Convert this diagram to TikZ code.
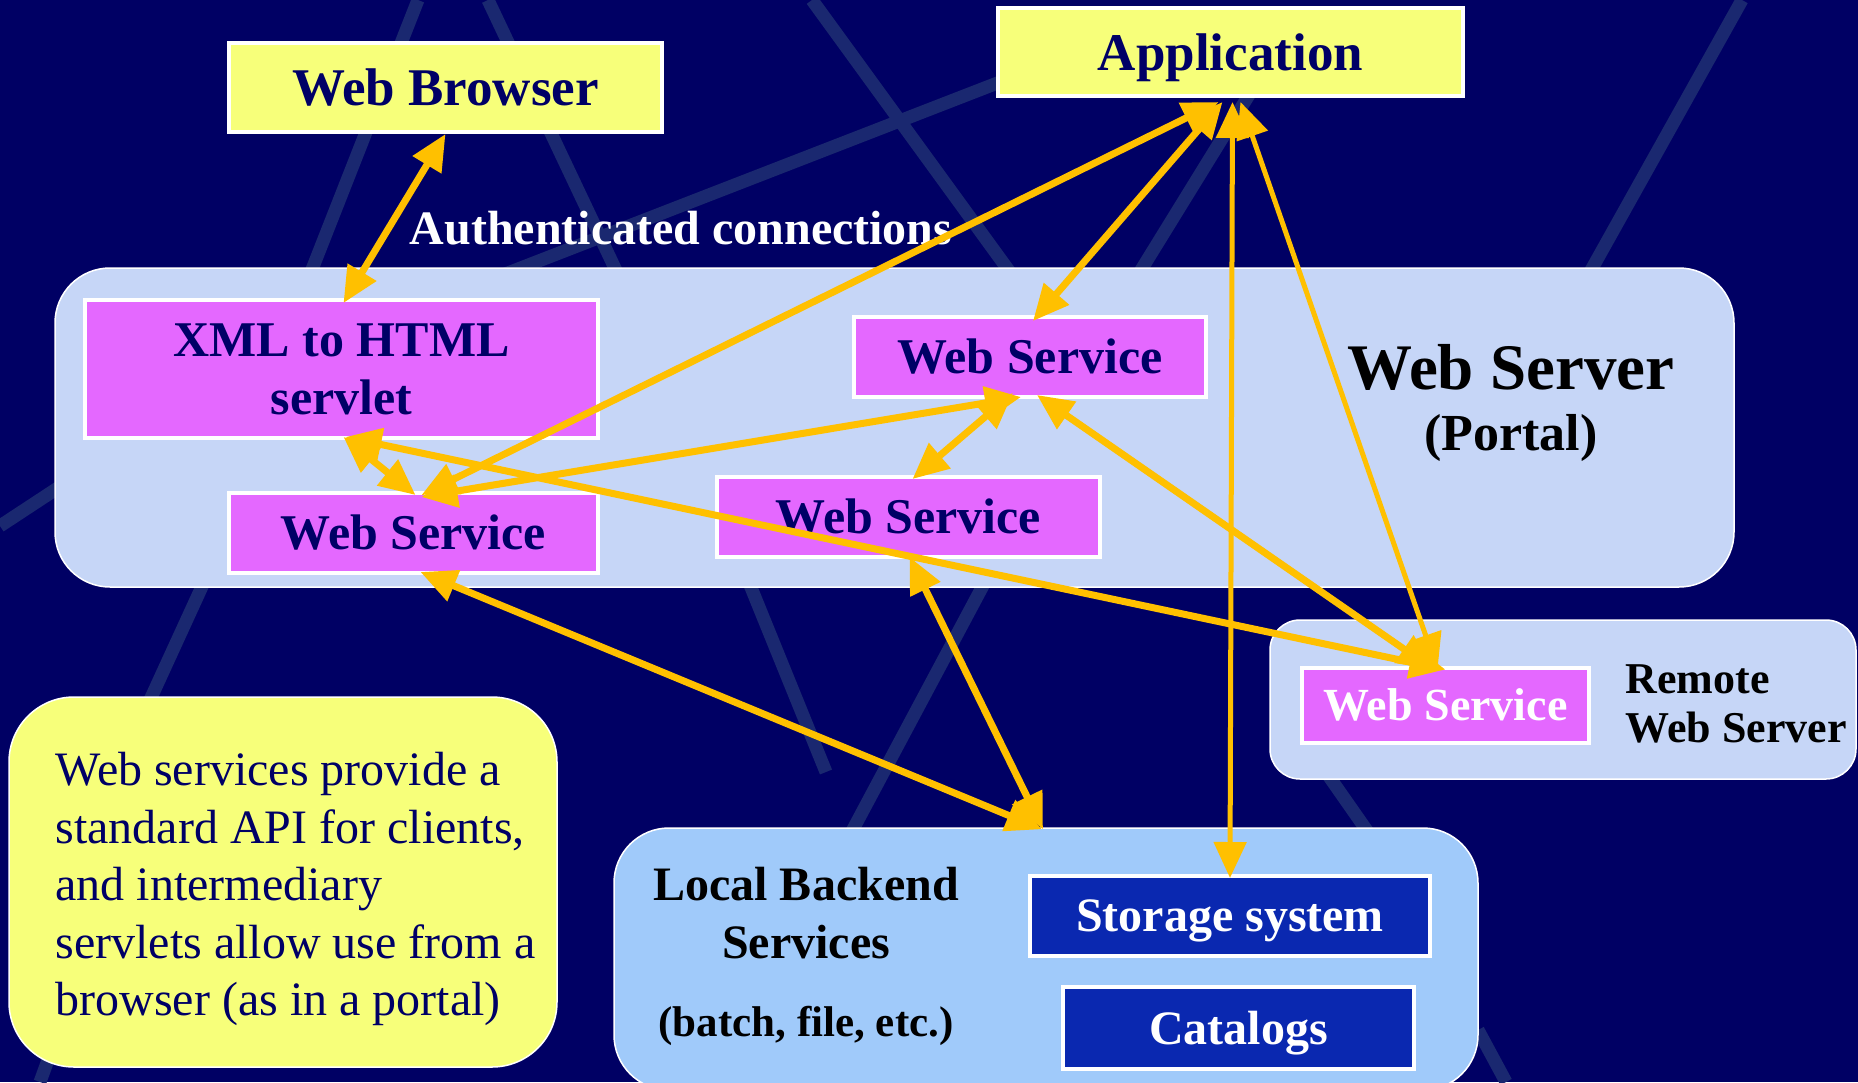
\documentclass[tikz,border=0pt]{standalone}
\usepackage{fontspec}
\setmainfont{Liberation Serif}
\usetikzlibrary{arrows.meta,calc}
\definecolor{bgc}{RGB}{0,0,100}
\definecolor{stripec}{RGB}{26,40,112}
\definecolor{ywl}{RGB}{247,255,122}
\definecolor{mag}{RGB}{228,104,255}
\definecolor{navy}{RGB}{0,0,102}
\definecolor{portalc}{RGB}{198,214,247}
\definecolor{localc}{RGB}{160,202,250}
\definecolor{dblue}{RGB}{10,40,176}
\definecolor{arr}{RGB}{255,192,0}
\begin{document}
\begin{tikzpicture}[x=1pt,y=-1pt,
  stripe/.style={draw=stripec,line width=13pt},
  ybox/.style={rectangle,fill=ywl,draw=white,line width=4pt,text=navy,inner sep=0pt,text depth=0pt,font=\bfseries\fontsize{53}{60}\selectfont},
  mbox/.style={rectangle,fill=mag,draw=white,line width=4pt,text=navy,inner sep=0pt,align=center,font=\bfseries\fontsize{50}{58}\selectfont},
  dbox/.style={rectangle,fill=dblue,draw=white,line width=4pt,text=white,inner sep=0pt,text depth=0pt,font=\bfseries\fontsize{48}{56}\selectfont},
  region/.style={rectangle,draw=white,line width=1.5pt,inner sep=0pt},
  conn/.style={draw=arr,line width=7pt,>={Triangle[length=36pt,width=32pt]},<->},
  thinconn/.style={conn,line width=5pt},
]
\useasboundingbox (0,0) rectangle (1858,1082);
\fill[bgc] (0,0) rectangle (1858,1082);
% background decoration
\draw[stripe] (418,0) -- (300,300);
\draw[stripe] (488,0) -- (630,300);
\draw[stripe] (812,0) -- (1012,275);
\draw[stripe] (500,276) -- (1000,82);
\draw[stripe] (1742,0) -- (1580,290);
\draw[stripe] (1252,90) -- (1138,275);
\draw[stripe] (0,526) -- (70,480);
\draw[stripe] (205,580) -- (150,700);
\draw[stripe] (748,580) -- (826,772);
\draw[stripe] (986,580) -- (850,835);
\draw[stripe] (1328,775) -- (1370,835);
\draw[stripe] (1478,1030) -- (1506,1082);
\draw[stripe] (40,1082) -- (48,1060);

% regions
\node[region,fill=portalc,rounded corners=55pt,minimum width=1679pt,minimum height=319pt] (portal) at (894.5,427.5) {};
\node[region,fill=portalc,rounded corners=30pt,minimum width=586pt,minimum height=159pt] (remote) at (1563,699.5) {};
\node[region,fill=ywl,rounded corners=65pt,minimum width=548pt,minimum height=370pt] (note) at (283,882) {};
\node[region,fill=localc,rounded corners=55pt,minimum width=864pt,minimum height=262pt] (local) at (1046,959) {};

% boxes
\node[ybox,minimum width=433pt,minimum height=89pt] (wb) at (445.5,87.5) {Web Browser};
\node[ybox,minimum width=465pt,minimum height=88pt] (app) at (1230.5,52) {Application};
\node[mbox,minimum width=513pt,minimum height=138pt] (xml) at (341.5,369) {XML to HTML\\servlet};
\node[mbox,minimum width=369pt,minimum height=80pt] (lws) at (413.5,533) {Web Service};
\node[mbox,minimum width=352pt,minimum height=80pt] (tws) at (1030,357) {Web Service};
\node[mbox,minimum width=383pt,minimum height=80pt] (mws) at (908.5,517) {Web Service};
\node[mbox,text=white,minimum width=287pt,minimum height=75pt,font=\bfseries\fontsize{46}{52}\selectfont] (rws) at (1445.5,705) {Web Service};
\node[dbox,minimum width=400pt,minimum height=80pt] (stor) at (1230,916) {Storage system};
\node[dbox,minimum width=351pt,minimum height=82pt] (cat) at (1238.5,1028) {Catalogs};

% labels
\node[text=white,font=\bfseries\fontsize{48}{54}\selectfont] (auth) at (681,228) {Authenticated connections};
\node[text=black,font=\bfseries\fontsize{65}{70}\selectfont] (wsl) at (1511,367) {Web Server};
\node[text=black,font=\bfseries\fontsize{52}{58}\selectfont] (portl) at (1511,438) {(Portal)};
\node[text=black,anchor=west,align=left,font=\bfseries\fontsize{44}{49}\selectfont] (reml) at (1622,704) {Remote\\Web Server};
\node[text=black,align=center,font=\bfseries\fontsize{48}{58}\selectfont] (locl) at (806,913) {Local Backend\\Services};
\node[text=black,font=\bfseries\fontsize{43}{50}\selectfont] (batch) at (806,1026) {(batch, file, etc.)};
\node[text=navy,anchor=west,align=left,font=\fontsize{48}{57.5}\selectfont] (notet) at (52,889) {Web services provide a\\standard API for clients,\\and intermediary\\servlets allow use from a\\browser (as in a portal)};

% connectors
\draw[conn] (wb.south) -- ([xshift=2pt,yshift=-5pt]xml.north);
\draw[conn] ([xshift=-12pt,yshift=-4pt]app.south) -- ([xshift=8pt,yshift=-4pt]lws.north);
\draw[conn] ([xshift=-8pt,yshift=-4pt]app.south) -- ([xshift=3pt,yshift=-6pt]tws.north);
\draw[thinconn] ([xshift=2pt,yshift=-4pt]app.south) -- ([yshift=-4pt]stor.north);
\draw[thinconn] ([xshift=10pt,yshift=-4pt]app.south) -- ([xshift=-8pt,yshift=-4pt]rws.north);
\draw[conn] ([xshift=8pt,yshift=-6pt]lws.north) -- ([xshift=-9pt,yshift=2pt]tws.south);
\draw[conn] ([xshift=-17pt,yshift=6pt]tws.south) -- ([xshift=4pt,yshift=-4pt]mws.north);
\draw[conn] ([xshift=2pt,yshift=3pt]xml.south) -- ([xshift=2pt,yshift=-4pt]lws.north);
\draw[conn] ([xshift=4pt,yshift=3pt]xml.south) -- ([xshift=0pt,yshift=-4pt]rws.north);
\draw[conn] ([xshift=7pt,yshift=4pt]tws.south) -- ([xshift=-12pt,yshift=-4pt]rws.north);
\draw[conn] ([xshift=7pt,yshift=3pt]lws.south) -- ([xshift=-4pt,yshift=-2pt]local.north);
\draw[conn] ([xshift=1pt,yshift=2pt]mws.south) -- ([xshift=-3pt,yshift=-2pt]local.north);
\end{tikzpicture}
\end{document}
